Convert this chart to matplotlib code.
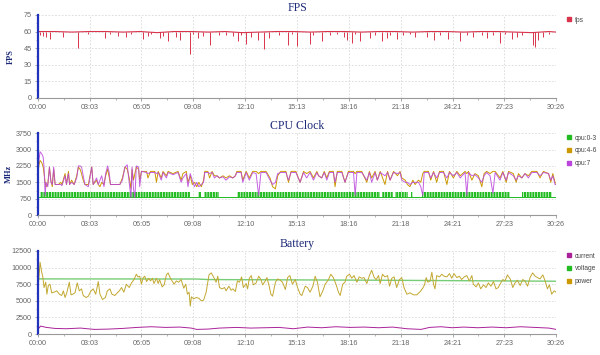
import matplotlib
matplotlib.use("Agg")
import matplotlib.pyplot as plt
from matplotlib.lines import Line2D
from matplotlib.ticker import MultipleLocator

# ---- data (seconds since start) ----
duration_s = 1826
x_tick_labels = ['00:00', '03:03', '06:05', '09:08', '12:10', '15:13',
                 '18:16', '21:18', '24:21', '27:23', '30:26']

# FPS: baseline around 60 plus individual drops
fps_t = [0, 60, 120, 180, 240, 300, 360, 420, 480, 540, 600, 660, 720, 780, 840,
         900, 960, 1020, 1080, 1140, 1200, 1260, 1320, 1380, 1440, 1500, 1560,
         1620, 1680, 1740, 1800, 1826]
fps_v = [60, 60, 59.5, 60, 60, 59.5, 60, 59, 60, 60, 59.5, 60, 59, 59.5, 60,
         60, 59.5, 60, 60, 59.5, 60, 60, 59.5, 60, 60, 59.5, 60,
         60, 59.5, 59, 60, 59.5]
fps_drop_t = [8, 20, 28, 43, 90, 140, 178, 236, 254, 283, 312, 330, 371, 388, 400,
              429, 441, 459, 488, 500, 535, 546, 564, 581, 608, 640, 663, 687, 706,
              716, 735, 751, 775, 798, 813, 851, 880, 897, 913,
              959, 971, 1000, 1030, 1053, 1077, 1088, 1106, 1118, 1135, 1171, 1188,
              1212, 1229, 1241, 1264, 1288, 1311, 1329, 1370, 1394, 1417, 1446, 1488,
              1511, 1534, 1564, 1581, 1605, 1628, 1646, 1669, 1687, 1705, 1746, 1752,
              1763, 1781, 1799]
fps_drop_v = [57, 56, 55, 53, 55, 45, 58, 54, 58, 56, 55, 58, 53, 56, 58,
              54, 56, 51, 55, 52, 40, 58, 54, 56, 48, 57, 57, 56, 51,
              57, 49, 55, 52, 44, 54, 57, 48, 58, 47,
              49, 57, 51, 57, 58, 55, 52, 50, 58, 51, 54, 57,
              51, 54, 57, 53, 57, 58, 55, 55, 52, 57, 53, 51,
              57, 55, 57, 54, 57, 50, 58, 53, 55, 57, 48, 46,
              52, 55, 58]

# CPU clock (MHz)
cpu03_idle = 850
cpu03_busy = 1050
cpu03_spans = [(6, 535), (566, 575), (584, 640), (702, 1205), (1212, 1250),
               (1258, 1305), (1315, 1320), (1354, 1664), (1706, 1812)]
cpu_t = [0, 4, 8, 14, 19, 22, 26, 29, 35, 41, 46, 51, 56, 61, 73, 81, 85, 96, 101,
         108, 112, 119, 128, 137, 143, 149, 154, 160, 166, 178, 190, 195, 207, 213,
         219, 225, 233, 239, 246, 252, 256, 271, 289, 298, 307, 315, 322, 328, 332,
         337, 342, 347, 355, 359, 365, 383, 388, 397, 412, 418, 424, 435, 441, 453,
         459, 476, 494, 505, 511, 523, 529, 537, 544, 552, 560, 567, 576, 584, 588,
         599, 605, 614, 622, 631, 640, 652, 663, 675, 687, 696, 701, 716, 722, 734,
         745, 757, 769, 778, 786, 804, 818, 827, 837, 845, 856, 874, 883, 892, 909,
         924, 936, 947, 959, 971, 983, 989, 1000, 1009, 1018, 1027, 1041, 1047, 1055,
         1071, 1082, 1094, 1112, 1118, 1124, 1141, 1159, 1168, 1176, 1188, 1196,
         1206, 1223, 1232, 1241, 1253, 1267, 1276, 1282, 1294, 1302, 1311, 1321,
         1329, 1341, 1349, 1356, 1361, 1376, 1384, 1394, 1405, 1415, 1429, 1441,
         1450, 1464, 1476, 1488, 1505, 1511, 1517, 1529, 1540, 1552, 1564, 1572,
         1581, 1593, 1603, 1611, 1628, 1638, 1650, 1658, 1675, 1685, 1693, 1705,
         1716, 1728, 1740, 1758, 1769, 1781, 1799, 1807, 1814, 1822, 1826]
cpu46 = [1800, 2300, 2500, 2400, 2200, 1900, 1500, 1300, 1400, 2200, 1600, 1300, 2100,
         1400, 1400, 1500, 1400, 1900, 1400, 2000, 1400, 1600, 1400, 1800, 2200, 2100,
         1900, 1600, 1400, 1400, 2200, 1400, 1600, 1400, 1300, 1500, 1400, 1800, 2100,
         1700, 1400, 1400, 1400, 1700, 2200, 2100, 1700, 1200, 2100, 1600, 1900, 2200,
         2100, 1600, 2000, 2000, 1700, 2000, 2000, 1500, 2000, 1700, 2000, 1800, 2000,
         1900, 2000, 1600, 1900, 2000, 1500, 1800, 1400, 1500, 1300, 1500, 1300, 1600,
         2000, 2000, 1700, 2000, 1800, 1800, 1700, 1800, 1700, 1800, 1700, 1800, 2000,
         2000, 1600, 2000, 1700, 2000, 2000, 1900, 2000, 2000, 1700, 1300, 1200, 1800,
         2000, 2000, 1500, 2000, 2000,
         1500, 2000, 1900, 2000, 1700, 2000, 1800, 1700, 2000, 1700, 2000, 2000, 1300,
         2000, 2000, 1500, 2000, 2000, 1900, 2000, 2000, 1500, 2000, 1700, 2000, 1600,
         2000, 1400, 2000, 1600, 2000, 1800, 2000, 1700, 1600, 1400, 1300, 1600, 1400,
         1600, 1500, 1900, 2000, 2000, 1600, 2000, 1500, 2000, 2000, 1400, 2000, 1700,
         2000, 1800, 2000, 1900, 2000, 1600, 1900, 1800, 1300, 1900, 2000, 1900, 2000,
         2000, 1700, 2000, 1500, 2000, 1900, 1500, 1900, 1700, 1900, 1800, 2000, 2000,
         1700, 2000, 1900, 1500, 1900, 1500, 1450]
cpu7 = [1800, 2500, 2900, 2800, 2650, 2200, 900, 1500, 1300, 2200, 1500, 1400, 2200,
        1400, 1400, 1400, 1350, 1800, 1400, 1900, 1400, 1500, 1400, 1700, 2250, 2250,
        2200, 1800, 1400, 1300, 2200, 1400, 1700, 1400, 1600, 1800, 1300, 1900, 2250,
        1900, 1400, 1400, 1400, 1600, 2200, 2300, 1500, 800, 2200, 1200, 800, 2250,
        2200, 1300, 2000, 1950, 1900, 1950, 1950, 1900, 1950, 1600, 1950, 1700, 1950,
        1850, 1950, 1500, 1700, 1900, 1300, 1900, 1600, 1300, 1500, 1300, 1400, 1500,
        1950, 1950, 1900, 1950, 1700, 1800, 1700, 1750, 1600, 1750, 1700, 1800, 1950,
        1950, 1500, 1950, 1600, 1950, 1900, 900, 1950, 1950, 1600, 1400, 1500, 1900,
        1950, 1950, 1600, 1950, 1950,
        1500, 1950, 1700, 1950, 1600, 1950, 1800, 1700, 1950, 1600, 1950, 1950, 1500,
        1950, 1950, 1500, 1950, 1950, 900, 1950, 1950, 1600, 1950, 1500, 1950, 1600,
        1950, 1800, 1950, 1600, 1950, 1900, 1950, 1600, 1500, 1500, 1400, 1500, 1500,
        1500, 1300, 900, 1950, 1950, 1700, 1950, 1700, 1950, 1950, 1700, 1950, 1800,
        1950, 1700, 1950, 900, 1950, 1800, 1850, 1700, 1500, 1800, 1950, 1800, 1000,
        1950, 1600, 1950, 1600, 1950, 1800, 1600, 1800, 1700, 1900, 1700, 1950, 1950,
        1800, 1950, 1900, 1600, 1800, 1400, 1400]

# Battery
batt_power_t = [0, 4, 8, 13, 18, 22, 28, 32, 37, 43, 49, 57, 67, 76, 84, 90, 96, 102,
                111, 117, 123, 131, 139, 146, 154, 160, 170, 178, 186, 195, 204, 213,
                219, 228, 238, 245, 254, 261, 271, 280, 287, 295, 303, 312, 322, 330,
                339, 347, 353, 359, 365, 371, 377, 383, 391, 397, 404, 409, 418, 424,
                429, 438, 445, 453, 459, 467, 473, 480, 488, 496, 505, 514, 521, 527,
                533, 537, 541, 549, 558, 567, 576, 584, 593, 603, 611, 619, 628, 634,
                640, 649, 658, 663, 673, 681, 687, 696, 703, 710, 718, 724, 734, 739,
                745, 752, 759, 769, 778, 786, 792, 800, 807, 815, 821, 827, 837, 845,
                854, 862, 872, 880, 888, 897, 907, 915,
                924, 930, 942, 950, 959, 969, 977, 985, 994, 1004, 1012, 1024, 1032,
                1041, 1051, 1059, 1065, 1074, 1082, 1088, 1098, 1106, 1114, 1124, 1132,
                1141, 1149, 1159, 1168, 1176, 1185, 1192, 1200, 1206, 1214, 1223, 1232,
                1239, 1247, 1255, 1264, 1274, 1282, 1290, 1300, 1311, 1323, 1335, 1347,
                1356, 1362, 1368, 1374, 1382, 1388, 1394, 1399, 1405, 1415, 1423, 1431,
                1441, 1450, 1458, 1466, 1476, 1485, 1493, 1502, 1511, 1520, 1529, 1534,
                1544, 1552, 1560, 1570, 1579, 1587, 1596, 1605, 1614, 1622, 1628, 1638,
                1646, 1654, 1664, 1673, 1681, 1689, 1699, 1708, 1716, 1725, 1734, 1743,
                1752, 1760, 1769, 1779, 1787, 1795, 1802, 1810, 1819, 1826]
batt_power = [6500, 8500, 10800, 9500, 8500, 7000, 7800, 6000, 7300, 7500, 6200, 6300,
              6500, 6000, 5800, 6500, 5500, 6200, 7800, 5900, 6000, 6200, 7700, 6500,
              6800, 5800, 5500, 5700, 6400, 6800, 6000, 7900, 6000, 5200, 5500, 6500,
              6800, 6000, 5800, 6200, 6500, 7000, 6300, 7500, 7000, 7700, 8200, 9000,
              8600, 8700, 7500, 8500, 8700, 7900, 8400, 8000, 8400, 7600, 8400, 7600,
              8200, 7100, 7400, 8900, 9200, 8400, 8000, 7500, 8000, 7800, 8200, 6900,
              7500, 6000, 6300, 4200, 5600, 5300, 5500, 5400, 5000, 5100, 6300, 8900,
              9200, 8600, 7800, 8700, 7000, 6800, 7000, 6500, 7200, 6600, 6800, 6400,
              8000, 7800, 8600, 7000, 7600, 6800, 8400, 8800, 7400, 7700, 8700, 8200,
              7400, 7900, 8500, 7200, 6000, 5700, 7800, 8300, 8100, 7800, 6700, 8500,
              8800, 7500, 8200, 7000,
              6000, 5800, 7200, 7000, 6300, 7200, 8700, 7800, 5600, 6500, 7500, 8200,
              9000, 8500, 7400, 6300, 5800, 7500, 7800, 8700, 9000, 8400, 8800, 7800,
              8600, 8400, 8500, 7600, 8800, 9600, 8500, 8200, 8800, 7600, 9000, 8600,
              8800, 7200, 8400, 8600, 7000, 8200, 8500, 7000, 6000, 6200, 5900, 5900,
              6400, 6900, 7400, 8500, 7800, 8000, 9300, 7500, 6800, 8800, 8600, 9000,
              8700, 8600, 9100, 8400, 9100, 8500, 8700, 8200, 8600, 8800, 8000, 8800,
              7500, 7100, 7700, 6800, 7400, 7000, 7700, 7200, 7900, 6800, 7000, 7500,
              8200, 8000, 8900, 8300, 7000, 7700, 8100, 7300, 8200, 8000, 7200, 8500,
              9200, 8700, 8500, 8300, 8900, 8000, 6800, 7400, 6000, 6500, 6300]
batt_voltage_t = [0, 560, 600, 1200, 1826]
batt_voltage = [8300, 8280, 8200, 8100, 7950]
batt_current_t = [0, 10, 30, 60, 100, 150, 200, 250, 300, 350, 400, 450, 500, 540,
                  560, 600, 640, 700, 750, 800, 850, 900, 950, 1000, 1050, 1100, 1150,
                  1200, 1250, 1300, 1350, 1380, 1420, 1460, 1500, 1550, 1600, 1650,
                  1700, 1750, 1800, 1826]
batt_current = [700, 1200, 1000, 850, 800, 900, 700, 750, 850, 1000, 1100, 1000, 1050,
                900, 700, 750, 900, 1000, 900, 950, 1000, 800, 1050, 950, 1100, 1000,
                1050, 950, 1050, 800, 700, 1000, 1100, 950, 1050, 950, 1050, 950, 1100,
                1000, 900, 700]

# ---- styling ----
title_col = '#1c2a78'
tick_col = '#666666'
fps_col = '#d8344c'
green_col = '#22bb22'
orange_col = '#cc9900'
purple_col = '#bb44dd'
current_col = '#aa2299'
voltage_col = '#77cc77'
power_col = '#c2a830'

plt.rcParams['font.family'] = ['Liberation Sans', 'DejaVu Sans']
plt.rcParams['hatch.linewidth'] = 0.5

fig = plt.figure(figsize=(6.0, 3.55), dpi=100)
left, width = 0.063, 0.864
ax_fps = fig.add_axes([left, 0.724, width, 0.234])
ax_cpu = fig.add_axes([left, 0.394, width, 0.231])
ax_bat = fig.add_axes([left, 0.059, width, 0.234])


def style_axis(ax, ymax, ystep, title):
    ax.set_xlim(0, duration_s)
    ax.set_ylim(0, ymax)
    ax.set_xticks([duration_s * i / 10 for i in range(11)])
    ax.set_xticklabels(x_tick_labels)
    ax.xaxis.set_minor_locator(MultipleLocator(duration_s / 20))
    ax.yaxis.set_major_locator(MultipleLocator(ystep))
    ax.yaxis.set_minor_locator(MultipleLocator(ystep / 2))
    ax.grid(True, which='major', color='#d8d8d8', linestyle=(0, (2, 2)), linewidth=0.6)
    ax.set_axisbelow(True)
    for s in ('top', 'right'):
        ax.spines[s].set_visible(False)
    ax.spines['left'].set_color('#2233bb')
    ax.spines['left'].set_linewidth(1.6)
    ax.spines['bottom'].set_color('#999999')
    ax.spines['bottom'].set_linewidth(0.8)
    ax.tick_params(axis='both', which='major', labelsize=5.2, colors='#999999',
                   labelcolor=tick_col, length=2.5, width=0.6, pad=2)
    ax.tick_params(axis='both', which='minor', colors='#999999', length=1.5, width=0.5)
    ax.set_title(title, fontsize=8.5, color=title_col, family='Liberation Serif', pad=3)


def add_legend(ax, labels, colors):
    handles = [Line2D([], [], marker='s', linestyle='none', color=c, markersize=3)
               for c in colors]
    ax.legend(handles, labels, loc='upper left', bbox_to_anchor=(1.02, 0.98),
              frameon=False, fontsize=4.8, borderaxespad=0, borderpad=0,
              handlelength=0.8, handletextpad=0.4, labelspacing=0.85,
              labelcolor='#444444')


# FPS
style_axis(ax_fps, 75, 15, 'FPS')
ax_fps.plot(fps_t, fps_v, color=fps_col, linewidth=0.8)
ax_fps.vlines(fps_drop_t, fps_drop_v, 60, color=fps_col, linewidth=0.7)
ax_fps.set_ylabel('FPS', fontsize=6, color=title_col, family='Liberation Serif',
                  fontweight='bold', labelpad=6)
add_legend(ax_fps, ['fps'], [fps_col])

# CPU clock
style_axis(ax_cpu, 3750, 750, 'CPU Clock')
ax_cpu.axhline(cpu03_idle, color=green_col, linewidth=0.7)
ax_cpu.broken_barh([(a, b - a) for a, b in cpu03_spans],
                   (cpu03_idle, cpu03_busy - cpu03_idle),
                   facecolor=green_col, edgecolor='white', linewidth=0,
                   hatch='||||||')
ax_cpu.plot(cpu_t, cpu46, color=orange_col, linewidth=0.7)
ax_cpu.plot(cpu_t, cpu7, color=purple_col, linewidth=0.7, alpha=0.85)
ax_cpu.set_ylabel('MHz', fontsize=6, color=title_col, family='Liberation Serif',
                  fontweight='bold', labelpad=2)
add_legend(ax_cpu, ['cpu:0-3', 'cpu:4-6', 'cpu:7'],
           [green_col, orange_col, purple_col])

# Battery
style_axis(ax_bat, 12500, 2500, 'Battery')
ax_bat.plot(batt_current_t, batt_current, color=current_col, linewidth=0.7)
ax_bat.plot(batt_voltage_t, batt_voltage, color=voltage_col, linewidth=1.0)
ax_bat.plot(batt_power_t, batt_power, color=power_col, linewidth=0.7)
add_legend(ax_bat, ['current', 'voltage', 'power'],
           [current_col, '#22bb22', orange_col])

fig.savefig('out.png', dpi=100)
